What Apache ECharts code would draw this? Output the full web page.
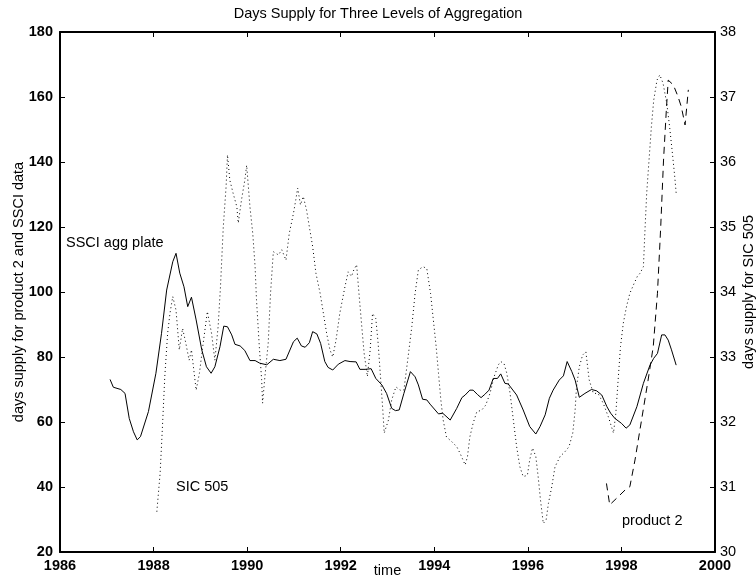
<!DOCTYPE html>
<html>
<head>
<meta charset="utf-8">
<title>Days Supply for Three Levels of Aggregation</title>
<script src="https://cdn.jsdelivr.net/npm/echarts@6/dist/echarts.min.js"></script>
<style>
    html, body { margin: 0; padding: 0; background: #fff; }
    #main { width: 756px; height: 578px; }
</style>
</head>
<body>
<div id="main"></div>
<script>
// SSCI agg plate (left axis, solid)
var ssciYears = [1987.07, 1987.14, 1987.30, 1987.39, 1987.48, 1987.57, 1987.65, 1987.72, 1987.89, 1988.05,
    1988.17, 1988.28, 1988.41, 1988.48, 1988.56, 1988.65, 1988.73, 1988.81, 1988.91, 1989.03,
    1989.13, 1989.23, 1989.31, 1989.42, 1989.50, 1989.58, 1989.67, 1989.74, 1989.85, 1989.95,
    1990.06, 1990.17, 1990.27, 1990.42, 1990.56, 1990.70, 1990.83, 1990.99, 1991.07, 1991.16,
    1991.24, 1991.33, 1991.40, 1991.49, 1991.57, 1991.66, 1991.73, 1991.83, 1991.95, 1992.09,
    1992.20, 1992.33, 1992.41, 1992.52, 1992.65, 1992.75, 1992.88, 1992.98, 1993.09, 1993.17,
    1993.25, 1993.35, 1993.49, 1993.59, 1993.66, 1993.75, 1993.84, 1993.91, 1994.09, 1994.18,
    1994.25, 1994.34, 1994.48, 1994.59, 1994.66, 1994.76, 1994.83, 1994.92, 1995.00, 1995.08,
    1995.17, 1995.26, 1995.35, 1995.42, 1995.51, 1995.58, 1995.76, 1995.90, 1996.04, 1996.17,
    1996.26, 1996.37, 1996.46, 1996.54, 1996.67, 1996.76, 1996.84, 1996.94, 1997.01, 1997.10,
    1997.22, 1997.36, 1997.47, 1997.58, 1997.69, 1997.77, 1997.86, 1998.00, 1998.10, 1998.18,
    1998.33, 1998.47, 1998.61, 1998.69, 1998.77, 1998.86, 1998.93, 1999.00, 1999.07, 1999.17];
var ssciValues = [73.1, 70.7, 70.0, 68.8, 61.1, 57.0, 54.5, 55.5, 63.2, 75.0,
    87.3, 100.6, 109.3, 111.9, 105.8, 101.6, 95.5, 98.4, 91.4, 82.2,
    77.0, 75.0, 77.0, 83.2, 89.5, 89.3, 86.8, 83.9, 83.4, 82.0,
    78.9, 78.9, 78.1, 77.6, 79.3, 78.9, 79.3, 84.7, 85.8, 83.4,
    83.0, 84.4, 87.8, 87.1, 84.2, 78.6, 76.8, 76.0, 77.8, 78.9,
    78.6, 78.5, 76.2, 76.2, 76.4, 73.4, 71.4, 68.8, 64.2, 63.5,
    63.7, 68.8, 75.5, 73.9, 71.4, 67.0, 66.8, 65.5, 62.5, 62.7,
    61.8, 60.6, 64.2, 67.5, 68.3, 69.8, 69.8, 68.5, 67.5, 68.5,
    69.8, 73.4, 73.4, 74.8, 71.9, 71.7, 68.3, 63.7, 58.6, 56.3,
    58.6, 62.2, 67.3, 69.8, 72.9, 74.2, 78.6, 75.5, 72.9, 67.6,
    68.8, 70.0, 69.6, 68.3, 64.7, 62.7, 61.1, 59.6, 58.1, 59.1,
    64.7, 71.9, 77.5, 79.6, 81.1, 86.8, 86.8, 85.2, 82.2, 77.5];

// SIC 505 (right axis, dotted)
var sicYears = [1988.07, 1988.14, 1988.19, 1988.24, 1988.30, 1988.35, 1988.41, 1988.48, 1988.55, 1988.62,
    1988.69, 1988.76, 1988.81, 1988.91, 1988.98, 1989.06, 1989.15, 1989.24, 1989.31, 1989.38,
    1989.43, 1989.49, 1989.55, 1989.58, 1989.63, 1989.70, 1989.78, 1989.81, 1989.88, 1989.95,
    1989.99, 1990.06, 1990.12, 1990.17, 1990.20, 1990.26, 1990.31, 1990.33, 1990.38, 1990.45,
    1990.50, 1990.56, 1990.67, 1990.74, 1990.83, 1990.90, 1990.99, 1991.04, 1991.08, 1991.14,
    1991.20, 1991.27, 1991.33, 1991.40, 1991.47, 1991.56, 1991.63, 1991.70, 1991.77, 1991.83,
    1991.90, 1991.98, 1992.09, 1992.16, 1992.23, 1992.28, 1992.34, 1992.39, 1992.45, 1992.50,
    1992.57, 1992.63, 1992.68, 1992.75, 1992.80, 1992.85, 1992.90, 1992.93, 1993.02, 1993.09,
    1993.18, 1993.27, 1993.35, 1993.44, 1993.52, 1993.59, 1993.66, 1993.76, 1993.84, 1993.92,
    1993.98, 1994.04, 1994.09, 1994.14, 1994.19, 1994.26, 1994.37, 1994.48, 1994.55, 1994.66,
    1994.71, 1994.76, 1994.83, 1994.91, 1995.01, 1995.10, 1995.19, 1995.28, 1995.37, 1995.42,
    1995.49, 1995.55, 1995.62, 1995.69, 1995.76, 1995.83, 1995.90, 1995.99, 1996.04, 1996.10,
    1996.17, 1996.22, 1996.27, 1996.33, 1996.39, 1996.44, 1996.51, 1996.58, 1996.69, 1996.79,
    1996.88, 1996.96, 1997.01, 1997.04, 1997.10, 1997.17, 1997.24, 1997.31, 1997.40, 1997.50,
    1997.61, 1997.72, 1997.83, 1997.88, 1997.93, 1997.98, 1998.04, 1998.11, 1998.18, 1998.27,
    1998.34, 1998.40, 1998.47, 1998.50, 1998.54, 1998.59, 1998.64, 1998.69, 1998.76, 1998.82,
    1998.89, 1998.97, 1999.03, 1999.09, 1999.14, 1999.17];
var sicValues = [30.62, 31.21, 31.93, 32.70, 33.36, 33.67, 33.93, 33.72, 33.11, 33.44,
    33.21, 32.95, 33.11, 32.49, 32.75, 33.21, 33.70, 33.36, 32.95, 33.47,
    34.08, 35.00, 35.62, 36.11, 35.72, 35.52, 35.31, 35.06, 35.42, 35.72,
    35.95, 35.31, 34.90, 34.39, 33.88, 33.16, 32.65, 32.29, 32.70, 33.21,
    33.98, 34.62, 34.57, 34.65, 34.49, 34.90, 35.21, 35.42, 35.60, 35.34,
    35.47, 35.26, 35.00, 34.70, 34.29, 33.98, 33.67, 33.36, 33.11, 33.00,
    33.26, 33.67, 34.08, 34.31, 34.24, 34.34, 34.42, 33.98, 33.47, 33.06,
    32.70, 33.11, 33.67, 33.59, 33.21, 32.70, 32.18, 31.83, 32.03, 32.34,
    32.54, 32.49, 32.49, 33.00, 33.47, 33.98, 34.34, 34.39, 34.36, 33.98,
    33.57, 33.16, 32.75, 32.34, 32.03, 31.77, 31.70, 31.62, 31.52, 31.34,
    31.47, 31.77, 31.98, 32.16, 32.18, 32.26, 32.44, 32.70, 32.88, 32.93,
    32.90, 32.75, 32.44, 32.03, 31.62, 31.31, 31.16, 31.18, 31.42, 31.60,
    31.47, 31.16, 30.80, 30.44, 30.49, 30.75, 31.00, 31.31, 31.47, 31.54,
    31.62, 31.83, 32.18, 32.54, 32.85, 33.03, 33.08, 32.65, 32.44, 32.44,
    32.29, 32.08, 31.83, 32.13, 32.65, 33.16, 33.52, 33.78, 33.98, 34.13,
    34.24, 34.29, 34.39, 34.90, 35.52, 36.03, 36.54, 36.95, 37.26, 37.34,
    37.21, 36.90, 36.54, 36.13, 35.77, 35.52];

// product 2 (left axis, dashed)
var prodYears = [1997.68, 1997.75, 1997.93, 1998.08, 1998.18, 1998.29, 1998.43, 1998.57, 1998.68, 1998.77,
    1998.84, 1998.90, 1998.96, 1999.00, 1999.11, 1999.21, 1999.28, 1999.36, 1999.39, 1999.43];
var prodValues = [41.1, 34.5, 37.0, 39.1, 40.1, 48.3, 60.6, 72.9, 83.2, 99.6,
    120.1, 140.6, 156.0, 165.2, 163.7, 160.1, 157.0, 151.4, 156.0, 162.2];

var titleText = 'Days Supply for Three Levels of Aggregation';
var leftName = 'days supply for product 2 and SSCI data';
var rightName = 'days supply for SIC 505';
var xName = 'time';

var FONT = '"Liberation Sans", Arial, Helvetica, sans-serif';
var FS = 14.5;

function pairs(xs, ys) {
    var r = [];
    for (var i = 0; i < xs.length; i++) {
        r.push([xs[i], ys[i]]);
    }
    return r;
}

function render() {
    var myChart = echarts.init(document.getElementById('main'), null, {renderer: 'canvas'});

    var axisLine = {show: true, onZero: false, lineStyle: {color: '#000', width: 2}};
    var axisTick = {show: true, inside: true, length: 5, lineStyle: {color: '#000', width: 1}};

    var option = {
        animation: false,
        backgroundColor: '#fff',
        title: {
            text: titleText,
            left: 'center',
            top: 1,
            textStyle: {fontFamily: FONT, fontSize: FS, fontWeight: 'normal', color: '#000'}
        },
        grid: {left: 60, right: 41, top: 32, bottom: 26, containLabel: false, outerBoundsMode: 'none'},
        xAxis: [
            {
                type: 'value',
                position: 'bottom',
                min: 1986,
                max: 2000,
                interval: 2,
                name: xName,
                nameLocation: 'middle',
                nameGap: 11,
                nameMoveOverlap: false,
                nameTextStyle: {fontFamily: FONT, fontSize: FS, color: '#000', verticalAlign: 'top'},
                axisLine: axisLine,
                axisTick: axisTick,
                splitLine: {show: false},
                axisLabel: {
                    margin: 6,
                    fontFamily: FONT, fontSize: FS, fontWeight: 'bold', color: '#000',
                    formatter: function (v) { return String(v); }
                }
            },
            {
                type: 'value',
                position: 'top',
                min: 1986,
                max: 2000,
                interval: 2,
                axisLine: axisLine,
                axisTick: axisTick,
                splitLine: {show: false},
                axisLabel: {show: false}
            }
        ],
        yAxis: [
            {
                type: 'value',
                position: 'left',
                min: 20,
                max: 180,
                interval: 20,
                name: leftName,
                nameLocation: 'middle',
                nameGap: 34,
                nameMoveOverlap: false,
                nameTextStyle: {fontFamily: FONT, fontSize: FS, color: '#000'},
                axisLine: axisLine,
                axisTick: axisTick,
                splitLine: {show: false},
                axisLabel: {margin: 7, fontFamily: FONT, fontSize: FS, fontWeight: 'bold', color: '#000'}
            },
            {
                type: 'value',
                position: 'right',
                min: 30,
                max: 38,
                interval: 1,
                name: rightName,
                nameLocation: 'middle',
                nameGap: 26,
                nameRotate: 90,
                nameMoveOverlap: false,
                nameTextStyle: {fontFamily: FONT, fontSize: FS, color: '#000'},
                axisLine: axisLine,
                axisTick: axisTick,
                splitLine: {show: false},
                axisLabel: {margin: 5, fontFamily: FONT, fontSize: FS, color: '#000'}
            }
        ],
        graphic: [
            {type: 'text', left: 66, top: 235, silent: true,
                style: {text: 'SSCI agg plate', font: FS + 'px ' + FONT, fill: '#000'}},
            {type: 'text', left: 176, top: 479, silent: true,
                style: {text: 'SIC 505', font: FS + 'px ' + FONT, fill: '#000'}},
            {type: 'text', left: 622, top: 513, silent: true,
                style: {text: 'product 2', font: FS + 'px ' + FONT, fill: '#000'}}
        ],
        series: [
            {
                name: 'SSCI agg plate',
                type: 'line',
                xAxisIndex: 0,
                yAxisIndex: 0,
                showSymbol: false,
                silent: true,
                data: pairs(ssciYears, ssciValues),
                lineStyle: {color: '#000', width: 1}
            },
            {
                name: 'SIC 505',
                type: 'line',
                xAxisIndex: 0,
                yAxisIndex: 1,
                showSymbol: false,
                silent: true,
                data: pairs(sicYears, sicValues),
                lineStyle: {color: '#000', width: 1, type: [1, 3]}
            },
            {
                name: 'product 2',
                type: 'line',
                xAxisIndex: 0,
                yAxisIndex: 0,
                showSymbol: false,
                silent: true,
                data: pairs(prodYears, prodValues),
                lineStyle: {color: '#000', width: 1, type: [7, 5]}
            }
        ]
    };

    myChart.setOption(option);
}

render();
</script>
</body>
</html>
